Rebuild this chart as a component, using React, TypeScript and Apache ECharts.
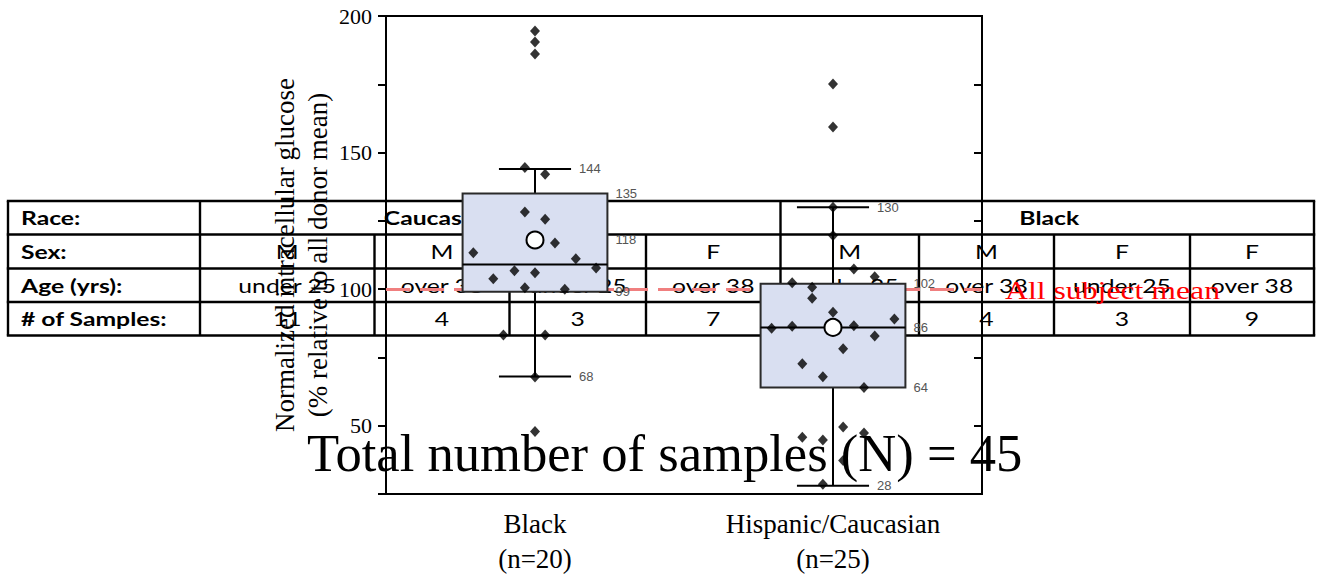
import React, { useEffect, useRef } from 'react';
import * as echarts from 'echarts';

// ---------- data ----------
const categories = ['Black', 'Hispanic/Caucasian'];
const groupCounts = [20, 25];

const whiskerLow = [68, 28];
const quartile1 = [99, 64];
const medians = [109, 86];
const quartile3 = [135, 102];
const whiskerHigh = [144, 130];
const means = [118, 86];

// jitter offsets (in category units) and values of individual samples
const blackOffsets = [0, 0, 0, -0.034, 0.034, -0.034, 0.034, 0.067, -0.207, 0.137, 0.205, -0.069, 0, -0.14, -0.034, 0.1, -0.106, 0.034, 0, 0];
const blackValues = [194.5, 190.5, 186.1, 144.5, 142.1, 128.2, 125.6, 116.9, 113.3, 111.1, 107.7, 106.7, 106.0, 103.8, 100.5, 100.0, 83.2, 83.2, 67.8, 47.9];

const hispOffsets = [0, 0, 0, 0, 0.07, 0.14, -0.137, -0.07, -0.07, 0, 0.206, -0.206, -0.137, 0.07, 0.14, 0.034, -0.103, -0.034, 0.104, 0.034, 0.104, -0.103, -0.034, 0.034, -0.034];
const hispValues = [175.1, 159.4, 130, 119.6, 107.4, 104.5, 102.3, 100.7, 96.7, 91.5, 89.1, 85.7, 86.4, 86.6, 82.8, 78.2, 72.7, 67.9, 64, 49.5, 47.3, 45.8, 44.8, 37.3, 28.6];

const allSubjectMean = 100;
const totalSamples = 45;
const yMin = 25;
const yMax = 200;
const yInterval = 25;

// table content
const tableRowLabels = ['Race:', 'Sex:', 'Age (yrs):', '# of Samples:'];
const raceGroups = ['Caucasian/Hispanic', 'Black'];
const raceSpans = [4, 4];
const sexRow = ['M', 'M', 'F', 'F', 'M', 'M', 'F', 'F'];
const ageRow = ['under 25', 'over 38', 'under 25', 'over 38', 'under 25', 'over 38', 'under 25', 'over 38'];
const samplesRow = ['11', '4', '3', '7', '4', '4', '3', '9'];

// ---------- layout ----------
const colEdges = [8, 200, 374.5, 509.5, 646, 780.5, 919, 1054, 1190, 1314];
const rowEdges = [201, 234.5, 268.5, 302, 335.5];
const TABLE_FONT = 'Lato';
const TABLE_SIZE = 19;
const TABLE_SX = 1.3;
const SERIF = '"Liberation Serif", "Times New Roman", serif';

function buildTable(): any[] {
  const els: any[] = [];
  const lw = 2.4;
  const L = colEdges[0];
  const R = colEdges[colEdges.length - 1];
  rowEdges.forEach((y) => {
    els.push({ type: 'line', z: 1, shape: { x1: L - lw / 2, y1: y, x2: R + lw / 2, y2: y }, style: { stroke: '#000', lineWidth: lw } });
  });
  const fullCols = [colEdges[0], colEdges[1], colEdges[5], colEdges[9]];
  colEdges.forEach((x) => {
    const full = fullCols.indexOf(x) >= 0;
    els.push({ type: 'line', z: 1, shape: { x1: x, y1: full ? rowEdges[0] : rowEdges[1], x2: x, y2: rowEdges[4] }, style: { stroke: '#000', lineWidth: lw } });
  });
  const txt = (s: string, x: number, y: number, align: string, bold: boolean) => ({
    type: 'text', z: 1, x, y, scaleX: TABLE_SX,
    style: { text: s, x: 0, y: 0, fill: '#000', fontFamily: TABLE_FONT, fontSize: TABLE_SIZE, fontWeight: bold ? 'bold' : 'normal', textAlign: align, align, textVerticalAlign: 'middle', verticalAlign: 'middle' },
  });
  tableRowLabels.forEach((s, r) => {
    els.push(txt(s, colEdges[0] + 13, (rowEdges[r] + rowEdges[r + 1]) / 2, 'left', true));
  });
  let c = 1;
  raceGroups.forEach((g, k) => {
    const x0 = colEdges[c];
    const x1 = colEdges[c + raceSpans[k]];
    els.push(txt(g, (x0 + x1) / 2 + 2, (rowEdges[0] + rowEdges[1]) / 2, 'center', true));
    c += raceSpans[k];
  });
  [sexRow, ageRow, samplesRow].forEach((row, r) => {
    row.forEach((s, k) => {
      els.push(txt(s, (colEdges[k + 1] + colEdges[k + 2]) / 2, (rowEdges[r + 1] + rowEdges[r + 2]) / 2, 'center', false));
    });
  });
  return els;
}

export default function App() {
  const ref = useRef<HTMLDivElement>(null);
  useEffect(() => {
    if (!ref.current) return;
    const chart = echarts.init(ref.current, undefined, { renderer: 'svg' });
    const boxData = categories.map((_, i) => [i, whiskerLow[i], quartile1[i], medians[i], quartile3[i], whiskerHigh[i], means[i]]);
    const blackPts = blackOffsets.map((o, j) => [0 + o, blackValues[j]]);
    const hispPts = hispOffsets.map((o, j) => [1 + o, hispValues[j]]);

    const option: any = {
      animation: false,
      grid: { left: 386, top: 16, width: 596, height: 480, show: true, borderColor: '#000', borderWidth: 2, backgroundColor: 'transparent' },
      xAxis: [
        {
          type: 'category',
          data: categories.map((c, i) => `${c}\n(n=${groupCounts[i]})`),
          axisLine: { onZero: false, lineStyle: { color: '#000', width: 2 } },
          axisTick: { alignWithLabel: true, length: 8, lineStyle: { color: '#000', width: 2 } },
          axisLabel: { color: '#000', fontFamily: SERIF, fontSize: 27, lineHeight: 35, margin: 12 },
          splitLine: { show: false },
        },
        { type: 'value', min: -0.5, max: 1.5, show: false, splitLine: { show: false }, axisLine: { show: false, onZero: false } },
      ],
      yAxis: [
        {
          type: 'value', min: yMin, max: yMax, interval: yInterval,
          axisLine: { show: true, onZero: false, lineStyle: { color: '#000', width: 2 } },
          axisTick: { show: true, length: 8, lineStyle: { color: '#000', width: 2 } },
          axisLabel: { color: '#000', fontFamily: SERIF, fontSize: 22, margin: 14, formatter: (v: number) => (v % 50 === 0 ? String(v) : '') },
          splitLine: { show: false },
          name: 'Normalized intracellular glucose\n(% relative to all donor mean)',
          nameLocation: 'middle', nameRotate: 90, nameGap: 52,
          nameTextStyle: { color: '#000', fontFamily: SERIF, fontSize: 27, lineHeight: 33 },
        },
        {
          type: 'value', min: yMin, max: yMax, interval: yInterval, position: 'right',
          axisLine: { show: true, onZero: false, lineStyle: { color: '#000', width: 2 } },
          axisTick: { show: true, inside: true, length: 8, lineStyle: { color: '#000', width: 2 } },
          axisLabel: { show: false },
          splitLine: { show: false },
        },
      ],
      series: [
        {
          type: 'custom', xAxisIndex: 0, yAxisIndex: 0, z: 5,
          data: boxData,
          encode: { x: 0, y: [1, 2, 3, 4, 5, 6] },
          renderItem: (params: any, api: any) => {
            const idx = api.value(0);
            const cx = api.coord([idx, yMin])[0];
            const yy = (v: number) => api.coord([idx, v])[1];
            const band = api.size([1, 0])[0];
            const bh = band * 0.243;
            const ch = band * 0.121;
            const lo = api.value(1), q1 = api.value(2), md = api.value(3), q3 = api.value(4), hi = api.value(5), mn = api.value(6);
            const ln = (x1: number, y1: number, x2: number, y2: number, w = 2) => ({ type: 'line', shape: { x1, y1, x2, y2 }, style: { stroke: '#000', lineWidth: w } });
            const lbl = (v: number, x: number) => ({ type: 'text', x, y: yy(v), style: { text: String(Math.round(v)), fill: '#555', fontFamily: '"Liberation Sans", Arial, sans-serif', fontSize: 13, align: 'left', verticalAlign: 'middle', textAlign: 'left', textVerticalAlign: 'middle' } });
            return {
              type: 'group',
              children: [
                ln(cx, yy(hi), cx, yy(q3)),
                ln(cx, yy(q1), cx, yy(lo)),
                ln(cx - ch, yy(hi), cx + ch, yy(hi)),
                ln(cx - ch, yy(lo), cx + ch, yy(lo)),
                { type: 'rect', shape: { x: cx - bh, y: yy(q3), width: 2 * bh, height: yy(q1) - yy(q3) }, style: { fill: '#d9dff1', stroke: '#2a2a2a', lineWidth: 2 } },
                ln(cx - bh, yy(md), cx + bh, yy(md)),
                { type: 'circle', shape: { cx, cy: yy(mn), r: 8.5 }, style: { fill: '#fff', stroke: '#000', lineWidth: 2 } },
                lbl(hi, cx + ch + 8),
                lbl(q3, cx + bh + 8),
                lbl(mn, cx + bh + 8),
                lbl(q1, cx + bh + 8),
                lbl(lo, cx + ch + 8),
              ],
            };
          },
        },
        {
          type: 'scatter', xAxisIndex: 1, yAxisIndex: 0, z: 6,
          symbol: 'diamond', symbolSize: [10, 11],
          itemStyle: { color: '#000' },
          data: blackPts,
          markLine: {
            silent: true, symbol: ['none', 'none'], label: { show: false },
            lineStyle: { type: [24, 10], color: '#f07f7f', width: 3 },
            data: [{ yAxis: allSubjectMean }],
          },
        },
        {
          type: 'scatter', xAxisIndex: 1, yAxisIndex: 0, z: 6,
          symbol: 'diamond', symbolSize: [10, 11],
          itemStyle: { color: '#000' },
          data: hispPts,
        },
      ],
      graphic: [
        ...buildTable(),
        {
          type: 'text', z: 20, x: 1005, y: 291, scaleX: 1.27,
          style: { text: 'All subject mean', x: 0, y: 0, fill: '#ff0000', fontFamily: SERIF, fontSize: 25, align: 'left', textAlign: 'left', verticalAlign: 'middle', textVerticalAlign: 'middle' },
        },
        {
          type: 'text', z: 20, x: 307, y: 453,
          style: { text: `Total number of samples (N) = ${totalSamples}`, x: 0, y: 0, fill: '#000', fontFamily: SERIF, fontSize: 52.6, align: 'left', textAlign: 'left', verticalAlign: 'middle', textVerticalAlign: 'middle' },
        },
      ],
    };
    chart.setOption(option);
    return () => chart.dispose();
  }, []);
  return <div ref={ref} style={{ position: 'absolute', left: 0, top: 0, width: 1317, height: 576 }} />;
}
